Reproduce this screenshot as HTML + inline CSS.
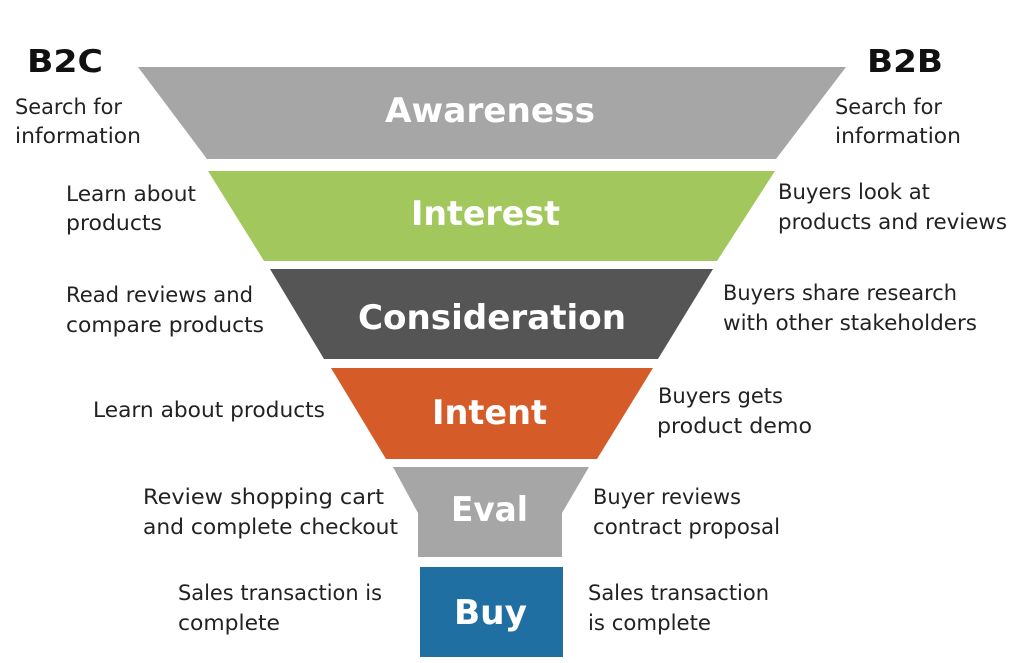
<!DOCTYPE html>
<html><head><meta charset="utf-8"><style>html,body{margin:0;padding:0;background:#fff}svg{display:block}</style></head>
<body>
<svg width="1024" height="663" viewBox="0 0 1024 663" xmlns="http://www.w3.org/2000/svg">
<rect width="1024" height="663" fill="#fff"/>
<polygon points="138,67 846,67 776,159 207,159" fill="#a6a6a6"/>
<polygon points="208,171 775,171 717,261 264,261" fill="#a2c85d"/>
<polygon points="270,269 713,269 658,359 324,359" fill="#555555"/>
<polygon points="331,368 653,368 597,459 386,459" fill="#d55c28"/>
<polygon points="393,467 589,467 562,513 562,557 418,557 418,513" fill="#a6a6a6"/>
<rect x="420" y="567" width="143" height="90" fill="#1f6fa3"/>
<g font-family="DejaVu Sans, Liberation Sans, sans-serif" font-weight="bold" fill="#fff" font-size="34">
<text x="385" y="122" textLength="210" lengthAdjust="spacingAndGlyphs">Awareness</text>
<text x="411" y="225" textLength="149" lengthAdjust="spacingAndGlyphs">Interest</text>
<text x="358" y="329" textLength="268" lengthAdjust="spacingAndGlyphs">Consideration</text>
<text x="432" y="424" textLength="115" lengthAdjust="spacingAndGlyphs">Intent</text>
<text x="451" y="521" textLength="77" lengthAdjust="spacingAndGlyphs">Eval</text>
<text x="454" y="624" textLength="73" lengthAdjust="spacingAndGlyphs">Buy</text>
</g>
<g font-family="DejaVu Sans, Liberation Sans, sans-serif" font-weight="bold" fill="#111" font-size="31">
<text x="27" y="72" textLength="76" lengthAdjust="spacingAndGlyphs">B2C</text>
<text x="867" y="72" textLength="76" lengthAdjust="spacingAndGlyphs">B2B</text>
</g>
<g font-family="DejaVu Sans, Liberation Sans, sans-serif" fill="#222" font-size="21">
<text x="15" y="114" textLength="107" lengthAdjust="spacingAndGlyphs">Search for</text>
<text x="15" y="143" textLength="126" lengthAdjust="spacingAndGlyphs">information</text>
<text x="66" y="201" textLength="130" lengthAdjust="spacingAndGlyphs">Learn about</text>
<text x="66" y="230" textLength="96" lengthAdjust="spacingAndGlyphs">products</text>
<text x="66" y="302" textLength="187" lengthAdjust="spacingAndGlyphs">Read reviews and</text>
<text x="66" y="332" textLength="198" lengthAdjust="spacingAndGlyphs">compare products</text>
<text x="93" y="417" textLength="232" lengthAdjust="spacingAndGlyphs">Learn about products</text>
<text x="143" y="504" textLength="241" lengthAdjust="spacingAndGlyphs">Review shopping cart</text>
<text x="143" y="534" textLength="255" lengthAdjust="spacingAndGlyphs">and complete checkout</text>
<text x="178" y="600" textLength="204" lengthAdjust="spacingAndGlyphs">Sales transaction is</text>
<text x="178" y="630" textLength="102" lengthAdjust="spacingAndGlyphs">complete</text>
<text x="835" y="114" textLength="107" lengthAdjust="spacingAndGlyphs">Search for</text>
<text x="835" y="143" textLength="126" lengthAdjust="spacingAndGlyphs">information</text>
<text x="778" y="199" textLength="152" lengthAdjust="spacingAndGlyphs">Buyers look at</text>
<text x="778" y="229" textLength="229" lengthAdjust="spacingAndGlyphs">products and reviews</text>
<text x="723" y="300" textLength="234" lengthAdjust="spacingAndGlyphs">Buyers share research</text>
<text x="723" y="330" textLength="254" lengthAdjust="spacingAndGlyphs">with other stakeholders</text>
<text x="658" y="403" textLength="125" lengthAdjust="spacingAndGlyphs">Buyers gets</text>
<text x="657" y="433" textLength="155" lengthAdjust="spacingAndGlyphs">product demo</text>
<text x="593" y="504" textLength="148" lengthAdjust="spacingAndGlyphs">Buyer reviews</text>
<text x="593" y="534" textLength="187" lengthAdjust="spacingAndGlyphs">contract proposal</text>
<text x="588" y="600" textLength="181" lengthAdjust="spacingAndGlyphs">Sales transaction</text>
<text x="588" y="630" textLength="123" lengthAdjust="spacingAndGlyphs">is complete</text>
</g>
</svg>
</body></html>
